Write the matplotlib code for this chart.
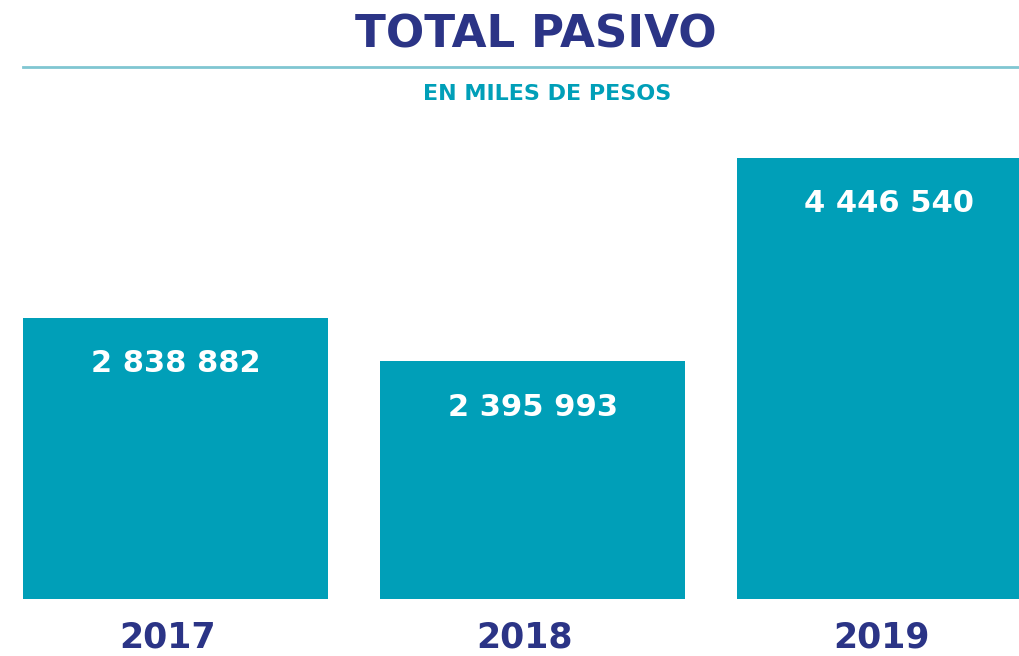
import numpy as np
import matplotlib
matplotlib.use('Agg')
import matplotlib.pyplot as plt
from matplotlib.lines import Line2D

# data
years = ['2017', '2018', '2019']
values = [2838882, 2395993, 4446540]
value_labels = ['2 838 882', '2 395 993', '4 446 540']

NAVY = '#2B3486'
TEAL = '#009FB8'
RULE = '#80C6D2'

plt.rcParams['font.family'] = ['DejaVu Sans']

fig = plt.figure(figsize=(10.19, 6.56), dpi=100)
ax = fig.add_axes([0, 57 / 656, 1, 599 / 656])

x = np.arange(len(years))
ax.bar(x, values, width=0.855, color=TEAL, zorder=2)

ax.set_xlim(-175.5 / 357, (1019 - 175.5) / 357)
ax.set_ylim(0, 599 * 10085)
ax.axis('off')

# value labels inside the bars
for xi, v, lab in zip(x, values, value_labels):
    ax.annotate(lab, (xi, v), xytext=(0, -33), textcoords='offset points',
                ha='center', va='center', color='white', fontsize=22,
                fontweight='bold', annotation_clip=False)

# year labels below the bars
for xi, yr in zip(x, years):
    ax.annotate(yr, (xi, 0), xytext=(-6, -28), textcoords='offset points',
                ha='center', va='center', color=NAVY, fontsize=25,
                fontweight='bold', annotation_clip=False)

fig.text(536 / 1019, 1 - 35 / 656, 'TOTAL PASIVO', ha='center', va='center',
         color=NAVY, fontsize=32.5, fontweight='bold')
fig.add_artist(Line2D([23 / 1019, 1], [1 - 67 / 656, 1 - 67 / 656],
                      color=RULE, linewidth=2, transform=fig.transFigure))
fig.text(547 / 1019, 1 - 94 / 656, 'EN MILES DE PESOS', ha='center', va='center',
         color=TEAL, fontsize=16, fontweight='bold')

fig.savefig('out.png', dpi=100, facecolor='white')
plt.close(fig)
